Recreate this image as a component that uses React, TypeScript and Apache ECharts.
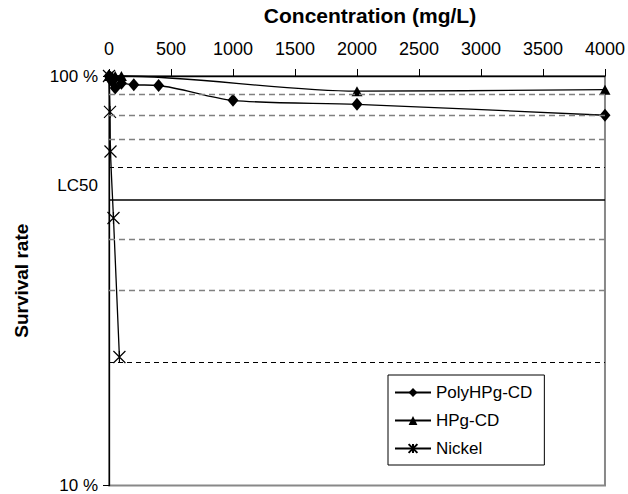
import React, { useEffect, useRef } from 'react';
import * as echarts from 'echarts';

const concPoly = [0, 10, 25, 50, 100, 200, 400, 1000, 2000, 4000];
const survPoly = [100, 99, 97, 93.5, 96, 95.2, 94.8, 87.2, 85.3, 80.2];
const concHPg = [0, 10, 25, 50, 100, 2000, 4000];
const survHPg = [100, 100, 100, 100, 100, 91.8, 92.6];
const concNickel = [0, 8, 12, 36, 84];
const survNickel = [100, 81.7, 65.4, 45, 20.6];
const xMin = 0;
const xMax = 4000;
const xStep = 500;
const yMin = 10;
const yMax = 100;
const gridGray = [90, 80, 70, 40, 30];
const gridDark = [60, 20];
const lc50 = 50;

const FONT = '"Liberation Sans", Arial, Helvetica, sans-serif';

export default function App() {
  const ref = useRef<HTMLDivElement>(null);
  useEffect(() => {
    if (!ref.current) return;
    const chart = echarts.init(ref.current, null, { renderer: 'svg' });
    const pair = (xs: number[], ys: number[]) => xs.map((x, i) => [x, ys[i]]);
    const baseLine = { color: '#000', width: 1.3 };
    const markData: any[] = [
      ...gridGray.map((v) => ({ yAxis: v, lineStyle: { color: '#808080', type: [6, 4], width: 1.3 }, label: { show: false } })),
      ...gridDark.map((v) => ({ yAxis: v, lineStyle: { color: '#000', type: [5, 4], width: 1 }, label: { show: false } })),
      { yAxis: lc50, lineStyle: { color: '#000', type: 'solid', width: 1.5 }, label: { show: false } },
    ];
    chart.setOption({
      animation: false,
      textStyle: { fontFamily: FONT },
      grid: {
        left: 109,
        right: 23,
        top: 73,
        bottom: 7,
        show: true,
        borderColor: '#888',
        borderWidth: 2,
        backgroundColor: 'transparent',
      },
      legend: {
        orient: 'vertical',
        left: 388,
        top: 375,
        padding: [9, 12, 8, 6],
        itemGap: 11,
        itemWidth: 36,
        itemHeight: 11,
        borderColor: '#000',
        borderWidth: 1,
        backgroundColor: '#fff',
        textStyle: { fontSize: 17, color: '#000', fontFamily: FONT },
        data: ['PolyHPg-CD', 'HPg-CD', 'Nickel'],
      },
      xAxis: {
        type: 'value',
        position: 'top',
        min: xMin,
        max: xMax,
        interval: xStep,
        name: 'Concentration (mg/L)',
        nameLocation: 'middle',
        nameGap: 50,
        nameTextStyle: { fontSize: 21, fontWeight: 'bold', color: '#000', fontFamily: FONT, padding: [0, 0, 0, 26] },
        axisLine: { show: true, lineStyle: { color: '#000', width: 1.3 } },
        axisTick: { show: true, inside: false, length: 7, lineStyle: { color: '#000' } },
        axisLabel: { fontSize: 18, color: '#000', margin: 18, fontFamily: FONT, formatter: (v: number) => String(v) },
        splitLine: { show: false },
      },
      yAxis: {
        type: 'log',
        logBase: 10,
        min: yMin,
        max: yMax,
        name: 'Survival rate',
        nameLocation: 'middle',
        nameGap: 78,
        nameTextStyle: { fontSize: 19, fontWeight: 'bold', color: '#000', fontFamily: FONT },
        axisLine: { show: true, lineStyle: { color: '#000', width: 1.3 } },
        axisTick: { show: true, length: 6, lineStyle: { color: '#000' } },
        axisLabel: { fontSize: 17, color: '#000', margin: 11, fontFamily: FONT, formatter: (v: number) => v + ' %' },
        splitLine: { show: false },
      },
      series: [
        {
          name: 'PolyHPg-CD',
          type: 'line',
          smooth: 0.3,
          clip: false,
          data: pair(concPoly, survPoly),
          symbol: 'diamond',
          symbolSize: [11, 13],
          itemStyle: { color: '#000' },
          lineStyle: baseLine,
          markLine: { silent: true, symbol: 'none', data: markData },
          z: 3,
        },
        {
          name: 'HPg-CD',
          type: 'line',
          smooth: 0.3,
          clip: false,
          data: pair(concHPg, survHPg),
          symbol: 'triangle',
          symbolSize: [11, 10],
          itemStyle: { color: '#000' },
          lineStyle: baseLine,
          z: 3,
        },
        {
          name: 'Nickel',
          type: 'line',
          smooth: 0.3,
          clip: false,
          data: pair(concNickel, survNickel),
          symbol: 'path://M0,0L10,10M10,0L0,10M5,0L5,10',
          symbolSize: 12,
          itemStyle: { color: 'rgba(0,0,0,0)', borderColor: '#000', borderWidth: 1.2 },
          lineStyle: baseLine,
          z: 4,
        },
      ],
    });
    const p = chart.convertToPixel({ gridIndex: 0 }, [xMin, lc50]) as number[];
    chart.setOption({
      graphic: [
        {
          type: 'text',
          x: p[0] - 11,
          y: p[1] - 14,
          style: {
            text: 'LC50',
            fontSize: 17,
            fontFamily: FONT,
            fill: '#000',
            align: 'right',
            verticalAlign: 'middle',
          },
        },
      ],
    });
    return () => chart.dispose();
  }, []);
  return <div ref={ref} style={{ position: 'absolute', left: 0, top: 0, width: 628, height: 494, background: '#fff' }} />;
}
